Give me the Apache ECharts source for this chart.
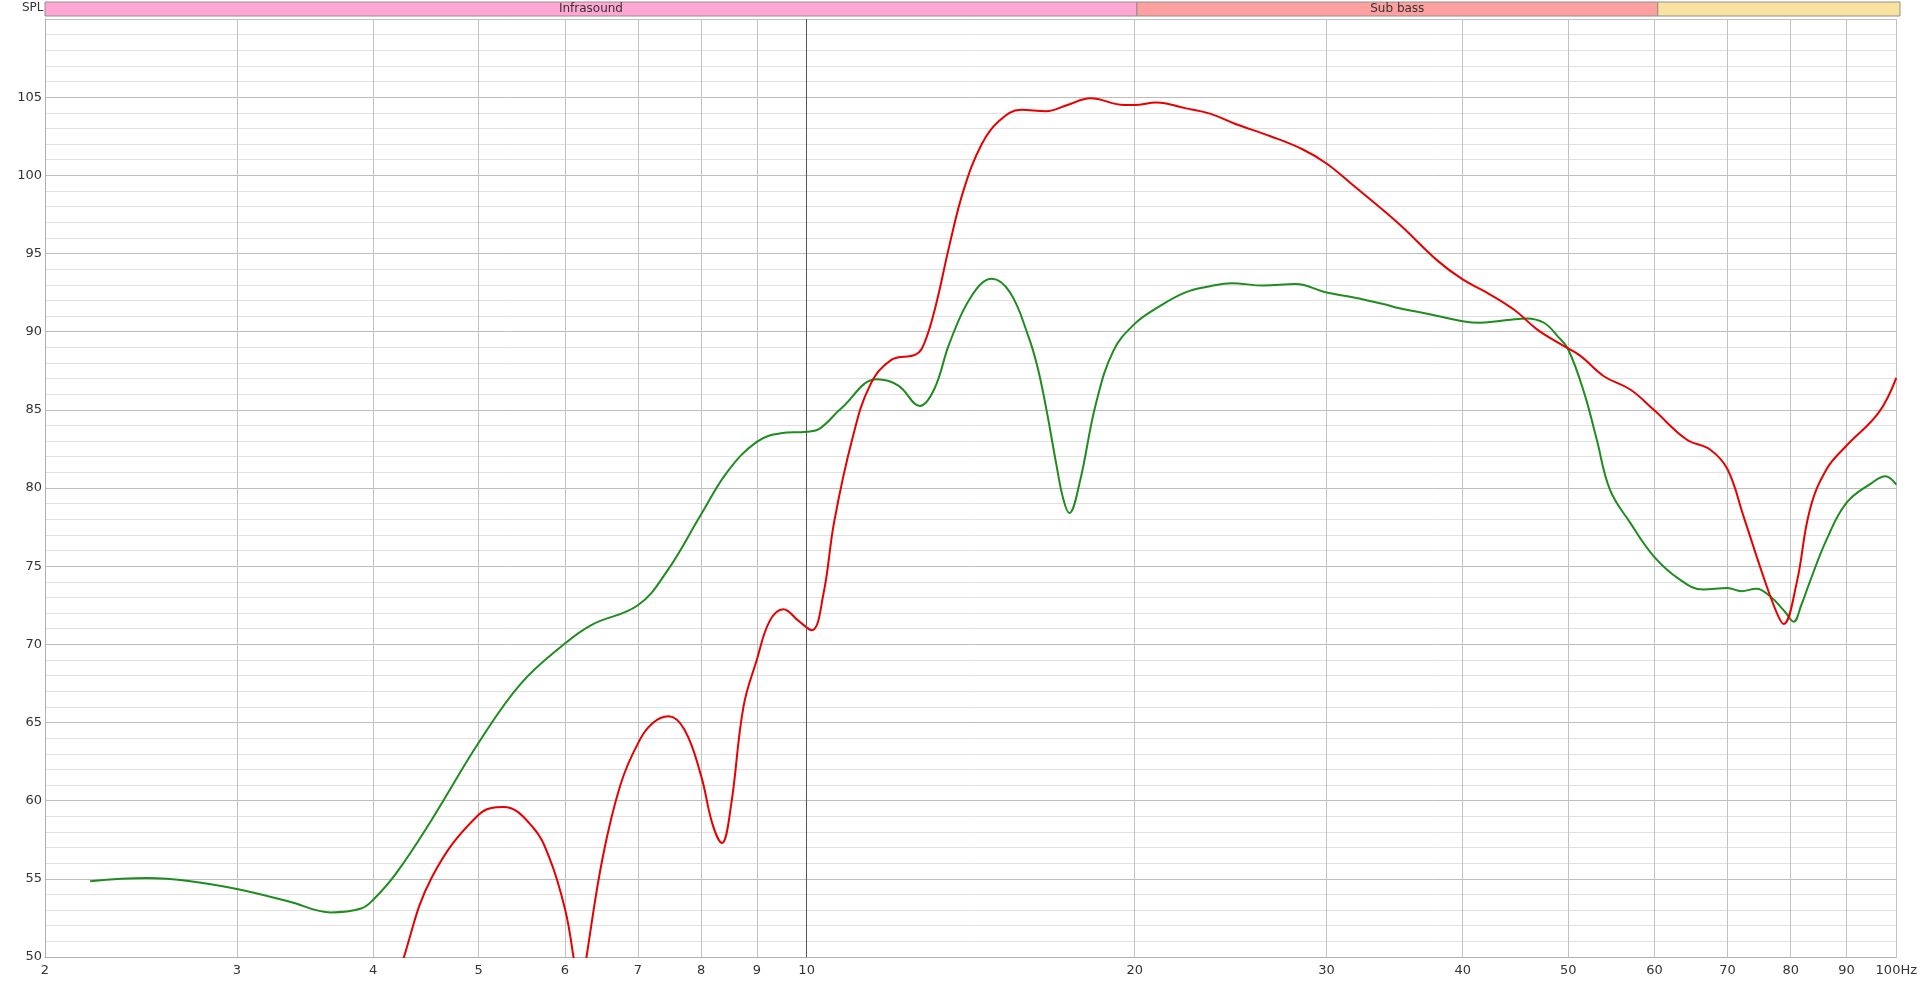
<!DOCTYPE html>
<html><head><meta charset="utf-8">
<script src="https://cdn.jsdelivr.net/npm/echarts@6/dist/echarts.min.js"></script>
<style>html,body{margin:0;padding:0;background:#fff}#c{width:1920px;height:983px}</style>
</head><body><div id="c"></div>
<script>
const xTicks = [2,3,4,5,6,7,8,9,10,20,30,40,50,60,70,80,90,100];
const bandNames = ['Infrasound','Sub bass',''];
const bandStart = [2,20,60];
const bandEnd = [20,60,100];
const bandColors = ['#ffa6d3','#ffa0a0','#f9e1a0'];

const greenFreq = [2.20,2.48,2.72,3.00,3.35,3.66,3.90,4.00,4.20,4.53,5.00,5.47,6.00,6.35,7.00,7.44,8.00,8.46,9.00,9.47,10.0,10.28,10.76,11.60,12.14,12.70,13.09,13.53,14.16,14.79,15.37,15.96,16.28,16.60,16.95,17.20,17.42,17.80,18.43,19.13,20.0,20.94,22.24,23.45,24.54,26.25,28.1,30.0,31.7,33.9,35.0,37.4,40.0,41.5,44.0,45.8,47.5,48.9,50.0,51.7,53.1,54.6,57.0,59.9,63.3,66.5,70.0,72.1,74.4,76.6,79.0,80.5,81.8,83.3,86.3,90.0,95.0,97.7,100.0];
const greenSpl = [54.85,55.05,54.85,54.35,53.55,52.85,53.1,53.65,55.35,58.8,63.7,67.5,70.05,71.25,72.5,74.65,78.3,81.05,82.95,83.5,83.6,83.8,85.1,86.95,86.55,85.25,86.3,89.3,92.25,93.38,92.5,89.8,87.8,85.0,81.5,79.3,78.4,80.3,85.4,88.8,90.5,91.5,92.5,92.9,93.1,92.95,93.05,92.5,92.2,91.75,91.5,91.1,90.67,90.57,90.74,90.85,90.57,89.7,88.86,86.1,83.1,79.9,77.77,75.63,74.14,73.5,73.6,73.4,73.56,73.07,72.1,71.45,72.5,74.0,76.7,79.05,80.33,80.75,80.22];

const redFreq = [4.12,4.27,4.53,5.00,5.27,5.60,5.81,6.00,6.11,6.19,6.28,6.50,6.75,7.00,7.22,7.47,7.73,8.00,8.20,8.36,8.52,8.75,9.00,9.25,9.52,9.83,10.11,10.36,10.60,11.01,11.43,11.96,12.60,12.83,13.13,13.53,13.94,14.48,15.03,15.73,16.58,17.35,18.21,19.57,20.0,20.94,22.24,23.45,24.72,26.65,28.51,30.0,31.94,34.95,37.9,40.0,42.1,44.6,46.8,49.2,51.3,53.9,57.0,59.9,64.2,67.5,70.0,72.4,75.5,77.7,78.8,81.0,83.3,86.3,90.0,96.3,100.0];
const redSpl = [46,50,55.1,59.1,59.6,58.35,56.3,53.1,50,47,50,56.4,61.05,63.65,64.95,65.4,64.5,61.6,58.45,57.3,59.6,66.0,69.0,71.5,72.25,71.5,70.9,73.2,77.85,83.1,86.55,88.2,88.55,89.3,91.6,95.6,99.1,102.0,103.5,104.2,104.1,104.5,104.93,104.5,104.5,104.66,104.3,103.95,103.3,102.5,101.67,100.76,99.2,96.9,94.56,93.34,92.5,91.4,90.15,89.2,88.45,87.15,86.3,85.0,83.1,82.45,81.2,78.2,74.35,72.0,71.3,73.9,78.6,81.2,82.7,84.8,87.05];

const pairs = (f, v) => f.map((x, i) => [x, v[i]]);
const bandData = bandStart.map((s, i) => [s, bandEnd[i], i]);

const chart = echarts.init(document.getElementById('c'), null, {renderer: 'canvas'});
const font = '"DejaVu Sans", sans-serif';
chart.setOption({
  animation: false,
  backgroundColor: '#ffffff',
  graphic: [{
    type: 'text', left: 22, top: 2,
    style: {text: 'SPL', fontSize: 12, fontFamily: font, fill: '#333'}
  }],
  grid: [
    {left: 45, right: 20, top: 19, bottom: 26},
    {left: 45, right: 20, top: 2, height: 14}
  ],
  xAxis: [{
    type: 'log', logBase: 10, min: 2, max: 100, gridIndex: 0,
    axisLine: {show: true, lineStyle: {color: '#b0b0b0'}},
    axisTick: {show: false, customValues: xTicks},
    axisLabel: {customValues: xTicks, margin: 7, fontSize: 13, fontFamily: font, color: '#333',
      formatter: v => (v === 100 ? '100Hz' : String(v))},
    splitLine: {show: true, lineStyle: {color: '#c2c2c2', width: 1}},
    minorSplitLine: {show: false}
  }, {
    type: 'log', logBase: 10, min: 2, max: 100, gridIndex: 1, show: false
  }],
  yAxis: [{
    type: 'value', min: 50, max: 110, interval: 5, gridIndex: 0,
    axisLine: {show: true, lineStyle: {color: '#b0b0b0'}},
    axisTick: {show: false},
    axisLabel: {margin: 3, fontSize: 13, fontFamily: font, color: '#333',
      formatter: v => (v === 110 ? '' : String(v))},
    splitLine: {show: true, lineStyle: {color: '#bdbdbd', width: 1}},
    minorTick: {show: false, splitNumber: 5},
    minorSplitLine: {show: true, lineStyle: {color: '#e1e1e1', width: 1}}
  }, {
    type: 'value', min: 0, max: 1, gridIndex: 1, show: false
  }],
  series: [{
    type: 'custom', xAxisIndex: 1, yAxisIndex: 1, silent: true,
    encode: {x: [0, 1]},
    data: bandData,
    renderItem: (params, api) => {
      const s = api.value(0), e = api.value(1), i = api.value(2);
      const p1 = api.coord([s, 0]), p2 = api.coord([e, 1]);
      return {type: 'group', children: [
        {type: 'rect', shape: {x: p1[0], y: p2[1], width: p2[0] - p1[0], height: p1[1] - p2[1]},
         style: {fill: bandColors[i], stroke: '#909090', lineWidth: 1}},
        {type: 'text', style: {text: bandNames[i], x: (p1[0] + p2[0]) / 2, y: (p1[1] + p2[1]) / 2,
         align: 'center', verticalAlign: 'middle', fontSize: 12, fontFamily: font, fill: '#333'}}
      ]};
    }
  }, {
    type: 'line', z: 1, silent: true, data: [[10, 50]], symbol: 'none', lineStyle: {width: 0},
    markLine: {silent: true, symbol: 'none', label: {show: false},
      lineStyle: {color: '#555', width: 1, type: 'solid'}, data: [{xAxis: 10}]}
  }, {
    name: 'green', type: 'line', z: 3, smooth: 0.4, symbol: 'none', clip: true,
    lineStyle: {color: '#1e8c1e', width: 2}, data: pairs(greenFreq, greenSpl)
  }, {
    name: 'red', type: 'line', z: 4, smooth: 0.4, symbol: 'none', clip: true,
    lineStyle: {color: '#e80000', width: 2}, data: pairs(redFreq, redSpl)
  }]
});
</script></body></html>
